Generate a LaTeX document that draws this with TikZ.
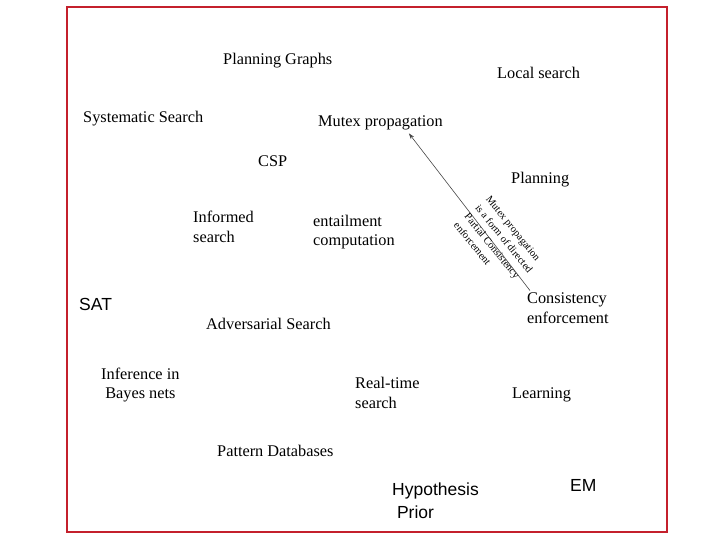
\documentclass[tikz,border=0pt]{standalone}
\usepackage{fontspec}
\setmainfont{Liberation Serif}
\newfontfamily\arialfont{Liberation Sans}
\usetikzlibrary{arrows.meta}
\definecolor{frame}{RGB}{196,32,44}
\definecolor{arrowgray}{RGB}{70,70,70}
\tikzset{
  x=1pt, y=1pt,
  term/.style={anchor=west, inner sep=0pt, align=left, font=\fontsize{16.3}{19.5}\selectfont},
  sansterm/.style={anchor=west, inner sep=0pt, align=left, font=\arialfont\fontsize{17.5}{23}\selectfont},
  note/.style={inner sep=0pt, align=left, font=\fontsize{10.4}{13.8}\selectfont, rotate=-51, anchor=north west},
  link/.style={arrowgray, line width=0.6pt, -{Stealth[length=6pt,width=4pt]}}
}
\begin{document}
\begin{tikzpicture}
\useasboundingbox (0,0) rectangle (720,-540);
\draw[frame, line width=1.8pt] (67,-7) rectangle (667,-532);

\node[term] (pg) at (223,-61) {Planning Graphs};
\node[term] (ls) at (497,-73) {Local search};
\node[term] (ss) at (83,-119) {Systematic Search};
\node[term] (mp) at (318,-123) {Mutex propagation};
\node[term] (csp) at (258,-161) {CSP};
\node[term] (pl) at (511,-180) {Planning};
\node[term] (is) at (193,-227) {Informed\\search};
\node[term] (ec) at (313,-232) {entailment\\computation};
\node[sansterm] (sat) at (79,-304) {SAT};
\node[term] (ce) at (527,-308) {Consistency\\enforcement};
\node[term] (as) at (206,-324) {Adversarial Search};
\node[term, align=center] (ib) at (101,-385) {Inference in\\Bayes nets};
\node[term] (rt) at (355,-393) {Real-time\\search};
\node[term] (le) at (512,-395) {Learning};
\node[term] (pd) at (217,-451) {Pattern Databases};
\node[sansterm] (hp) at (392,-501) {Hypothesis\\\ Prior};
\node[sansterm] (em) at (570,-485) {EM};

\draw[link] ([xshift=3pt,yshift=2pt]ce.north west) -- ([xshift=-34pt,yshift=-3pt]mp.south east);
\node[note] (nt) at (491,-195) {Mutex propagation\\is a form of directed\\Partial Consistency\\enforcement};
\end{tikzpicture}
\end{document}
